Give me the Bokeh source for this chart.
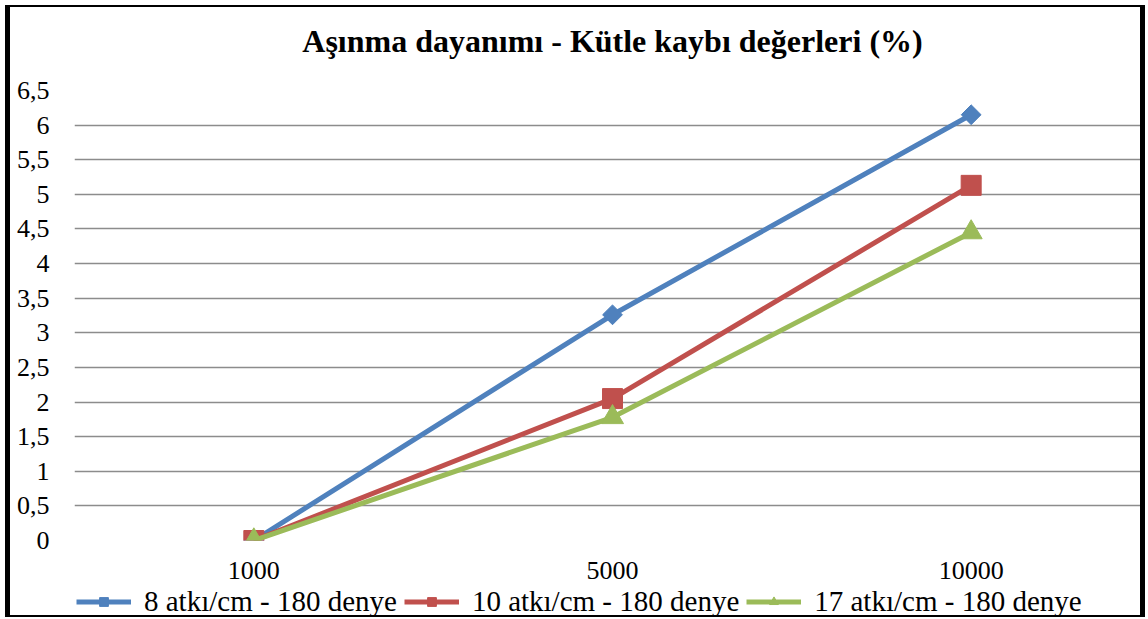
import math
from bokeh.plotting import figure
from bokeh.layouts import column
from bokeh.models import FactorRange, Range1d, FixedTicker, Legend, LegendItem, Title
from bokeh.embed import file_html
from bokeh.resources import INLINE

# ---- data ----
categories = ["1000", "5000", "10000"]
series_names = ["8 atkı/cm - 180 denye", "10 atkı/cm - 180 denye", "17 atkı/cm - 180 denye"]
s8 = [0, 3.26, 6.15]
s10 = [0, 2.05, 5.13]
s17 = [0, 1.78, 4.45]
y_ticks = [0, 0.5, 1, 1.5, 2, 2.5, 3, 3.5, 4, 4.5, 5, 5.5, 6, 6.5]
y_tick_labels = ["0", "0,5", "1", "1,5", "2", "2,5", "3", "3,5", "4", "4,5", "5", "5,5", "6", "6,5"]
title_text = "Aşınma dayanımı - Kütle kaybı değerleri (%)"

FONT = "Liberation Serif"
colors = ["#4F81BD", "#C0504D", "#9BBB59"]
markers = [("square", 14, math.pi / 4), ("square", 20, 0), ("triangle", 22, 0)]

# ---- main chart ----
p = figure(
    x_range=FactorRange(factors=categories, range_padding=0),
    y_range=Range1d(0, 6.5),
    width=1140, height=580,
    output_backend="svg", toolbar_location=None,
)
p.styles = {
    "border-left": "5px solid black",
    "border-right": "5px solid black",
    "border-top": "2px solid black",
    "box-sizing": "border-box",
}
p.min_border_left = 64
p.min_border_right = 0
p.min_border_top = 83
p.min_border_bottom = 47
p.outline_line_color = None

p.title.text = title_text
p.title.align = "center"
p.title.text_font = FONT
p.title.text_font_size = "32px"
p.title.text_font_style = "bold"
p.title.text_color = "black"
p.title.standoff = 10
# small spacer between title and plot area
p.add_layout(Title(text=" ", text_font_size="2px", standoff=23), "above")

p.xgrid.grid_line_color = None
p.ygrid.grid_line_color = "#8c8c8c"
p.ygrid.grid_line_width = 1.5

p.yaxis.ticker = FixedTicker(ticks=y_ticks)
p.yaxis.major_label_overrides = {t: l for t, l in zip(y_ticks, y_tick_labels)}
for ax in (p.xaxis, p.yaxis):
    ax.axis_line_color = None
    ax.major_tick_line_color = None
    ax.minor_tick_line_color = None
    ax.major_label_text_font = FONT
    ax.major_label_text_font_size = "26px"
    ax.major_label_text_color = "black"
p.yaxis.major_label_standoff = 19
p.xaxis.major_label_standoff = 15

all_series = [s8, s10, s17]
for vals, c, (mk, sz, ang) in zip(all_series, colors, markers):
    p.line(categories, vals, line_color=c, line_width=5)
    p.scatter(categories, vals, marker=mk, size=sz, angle=ang,
              fill_color=c, line_color=c)

# ---- legend strip below the chart ----
# same series drawn again, outside the strip's visible range, only to feed the legend
pl = figure(
    x_range=Range1d(0, 1), y_range=Range1d(100, 101),
    width=1140, height=32, min_border=0,
    x_axis_location=None, y_axis_location=None,
    output_backend="svg", toolbar_location=None,
)
pl.styles = {
    "border-left": "5px solid black",
    "border-right": "5px solid black",
    "border-bottom": "2px solid black",
    "box-sizing": "border-box",
}
pl.grid.visible = False
pl.outline_line_color = None

items = []
for vals, name, c, (mk, sz, ang) in zip(all_series, series_names, colors, markers):
    xs = list(range(len(vals)))
    r1 = pl.line(x=xs, y=vals, line_color=c, line_width=5)
    r2 = pl.scatter(x=xs, y=vals, marker=mk, size=sz, angle=ang,
                    fill_color=c, line_color=c)
    items.append(LegendItem(label=name, renderers=[r1, r2]))

legend = Legend(
    items=items, orientation="horizontal", location="left", margin=2,
    label_text_font=FONT, label_text_font_size="29px", label_text_color="black",
    glyph_width=55, glyph_height=22, label_standoff=13, spacing=7,
    padding=0, border_line_color=None, background_fill_alpha=0,
)
pl.add_layout(legend, "center")

layout = column(p, pl, spacing=0)
layout.styles = {"margin-left": "5px", "margin-top": "5px"}

open("out.html", "w").write(file_html(layout, INLINE))
